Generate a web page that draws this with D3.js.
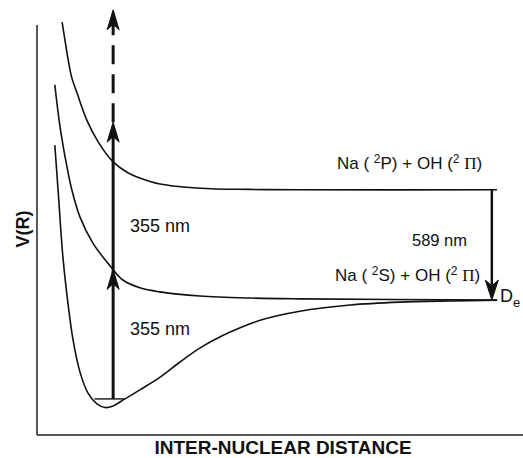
<!DOCTYPE html>
<html>
<head>
<meta charset="utf-8">
<script src="https://cdn.jsdelivr.net/npm/d3@7"></script>
<style>
  html, body { margin: 0; padding: 0; background: #fff; }
  svg { display: block; }
  text { font-family: "Liberation Sans", Arial, sans-serif; fill: #111; }
</style>
</head>
<body>
<svg id="chart" width="523" height="458"></svg>
<script>
// Potential energy curves V(R) of NaOH (arbitrary units)
// Excited state correlating with Na(2P) + OH(2Π)
const upperR = [6.2, 6.9, 7.7, 8.6, 9.9, 12.3, 15.1, 18.8, 22.2, 25.4, 30.4, 40.2, 52.6, 64.9, 113.6];
const upperV = [100.7, 96.3, 91.5, 87.1, 83.4, 76.8, 71.5, 66.6, 64.1, 62.7, 61.2, 60.2, 59.9, 59.8, 59.8];

// Repulsive state correlating with Na(2S) + OH(2Π)
const middleR = [4.4, 5.7, 7.4, 8.6, 10.6, 13.8, 18.5, 21.2, 25.4, 30.4, 40.2, 52.6, 64.9, 113.6];
const middleV = [85.4, 75.1, 65.4, 59.8, 53.2, 46.8, 40.7, 37.8, 35.9, 34.9, 33.9, 33.4, 33.2, 32.9];

// Bound ground state
const groundR = [4.4, 5.2, 6.4, 7.7, 8.9, 10.6, 12.6, 14.8, 16.8, 18.8, 21.7, 25.4, 30.4, 35.3, 40.2, 47.7, 55.1, 64.9, 77.3, 89.6, 102.0, 113.6];
const groundV = [70.7, 59.8, 43.4, 31.7, 23.2, 15.4, 10.2, 7.6, 6.7, 7.1, 8.8, 11.0, 14.1, 17.8, 21.2, 25.1, 28.0, 30.2, 31.7, 32.4, 32.7, 32.9];

// Zero-point vibrational level of the ground state
const zeroLevelR = [14.2, 21.6];
const zeroLevelV = 8.8;

// Two-photon 355 nm excitation: start, after first photon, after second photon, beyond
const pumpR = 18.8;
const pumpV = [8.8, 40.4, 76.3, 103.7];

// 589 nm Na D-line emission between the asymptotes
const emissionR = 112.3;
const emissionV = [59.8, 32.9];

const width = 523, height = 458;
const x = d3.scaleLinear().domain([0, 120]).range([37, 523]);
const y = d3.scaleLinear().domain([0, 100]).range([435, 25]);

const svg = d3.select("#chart");

// Axes: plain frame lines on the left and bottom, no ticks
svg.append("line")
  .attr("x1", x(0)).attr("x2", x(0))
  .attr("y1", y(100)).attr("y2", y(0))
  .attr("stroke", "#222").attr("stroke-width", 1.5);
svg.append("line")
  .attr("x1", x(0)).attr("x2", x(120))
  .attr("y1", y(0)).attr("y2", y(0))
  .attr("stroke", "#222").attr("stroke-width", 1.5);

const line = d3.line()
  .x(d => x(d[0]))
  .y(d => y(d[1]))
  .curve(d3.curveCatmullRom.alpha(0.5));

const curves = [
  d3.zip(upperR, upperV),
  d3.zip(middleR, middleV),
  d3.zip(groundR, groundV)
];

svg.selectAll("path.curve")
  .data(curves)
  .join("path")
  .attr("class", "curve")
  .attr("d", line)
  .attr("fill", "none")
  .attr("stroke", "#111")
  .attr("stroke-width", 1.6);

// Zero-point level
svg.append("line")
  .attr("x1", x(zeroLevelR[0])).attr("x2", x(zeroLevelR[1]))
  .attr("y1", y(zeroLevelV)).attr("y2", y(zeroLevelV))
  .attr("stroke", "#111").attr("stroke-width", 1.4);

// Barbed arrowhead with its tip at (px, py), pointing up (dir = -1) or down (dir = 1)
function arrowHead(px, py, dir, len = 20, half = 6) {
  const notch = len * 0.72;
  const p = d3.path();
  p.moveTo(px, py);
  p.lineTo(px + half, py - dir * len);
  p.lineTo(px, py - dir * notch);
  p.lineTo(px - half, py - dir * len);
  p.closePath();
  svg.append("path").attr("d", p.toString()).attr("fill", "#111")
    .attr("stroke", "#111").attr("stroke-width", 1).attr("stroke-linejoin", "round");
}

// Solid part of the excitation arrow (two 355 nm photons)
svg.append("line")
  .attr("x1", x(pumpR)).attr("x2", x(pumpR))
  .attr("y1", y(pumpV[0])).attr("y2", y(pumpV[2]) + 10)
  .attr("stroke", "#111").attr("stroke-width", 3);
arrowHead(x(pumpR), y(pumpV[1]), -1);
arrowHead(x(pumpR), y(pumpV[2]), -1);

// Dashed continuation above the second photon
svg.append("line")
  .attr("x1", x(pumpR)).attr("x2", x(pumpR))
  .attr("y1", y(pumpV[2])).attr("y2", y(pumpV[3]) + 12)
  .attr("stroke", "#111").attr("stroke-width", 3)
  .attr("stroke-dasharray", "19,10");
arrowHead(x(pumpR), y(pumpV[3]), -1);

// 589 nm emission arrow
svg.append("line")
  .attr("x1", x(emissionR)).attr("x2", x(emissionR))
  .attr("y1", y(emissionV[0])).attr("y2", y(emissionV[1]) - 10)
  .attr("stroke", "#111").attr("stroke-width", 2.5);
arrowHead(x(emissionR), y(emissionV[1]), 1, 20, 6.5);

// Text labels
svg.append("text").attr("x", 130).attr("y", 232)
  .attr("font-size", 18).text("355 nm");
svg.append("text").attr("x", 130).attr("y", 335)
  .attr("font-size", 18).text("355 nm");
svg.append("text").attr("x", 412).attr("y", 246)
  .attr("font-size", 16.5).text("589 nm");

function stateLabel(tx, ty, atom) {
  const t = svg.append("text").attr("x", tx).attr("y", ty).attr("font-size", 17);
  t.append("tspan").text("Na ( ");
  t.append("tspan").attr("font-size", 12).attr("dy", -6).text("2");
  t.append("tspan").attr("dy", 6).text(atom + ") + OH (");
  t.append("tspan").attr("font-size", 12).attr("dy", -6).text("2");
  t.append("tspan").attr("dy", 6).text(" ");
  t.append("tspan").style("font-family", "'Liberation Serif', serif").text("Π");
  t.append("tspan").text(")");
}
stateLabel(337, 169, "P");
stateLabel(335, 281, "S");

// Dissociation energy marker at the ground-state asymptote
const de = svg.append("text").attr("x", 500).attr("y", 302).attr("font-size", 18);
de.append("tspan").text("D");
de.append("tspan").attr("font-size", 13).attr("dy", 5).text("e");

svg.append("text")
  .attr("transform", "translate(29,229) rotate(-90)")
  .attr("text-anchor", "middle")
  .attr("font-size", 18).attr("font-weight", "bold")
  .text("V(R)");

svg.append("text")
  .attr("x", 283).attr("y", 454)
  .attr("text-anchor", "middle")
  .attr("font-size", 19).attr("font-weight", "bold")
  .text("INTER-NUCLEAR DISTANCE");
</script>
</body>
</html>
